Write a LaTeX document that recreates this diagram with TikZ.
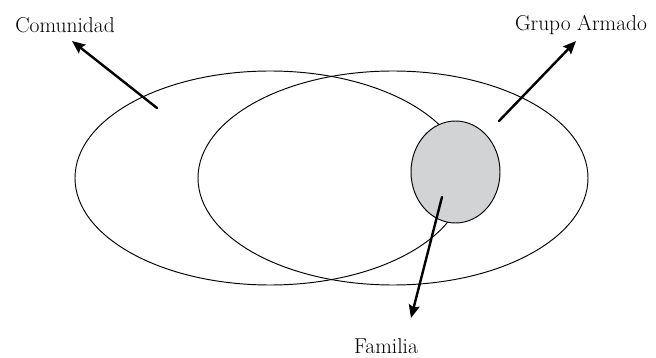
\documentclass[tikz,border=0pt]{standalone}
\usetikzlibrary{shapes.geometric,arrows.meta}
\definecolor{famgray}{RGB}{209,211,213}
\begin{document}
\begin{tikzpicture}[x=1pt,y=-1pt,>={Stealth[length=13pt,width=11pt,inset=2pt]},
  every node/.style={font=\fontsize{21.5}{25}\selectfont},
  set/.style={draw,ellipse,line width=0.95pt,minimum width=390pt,minimum height=214pt,inner sep=0pt},
  lbl/.style={anchor=base,inner sep=0pt},
  arr/.style={->,line width=2.4pt,line cap=round}]
\useasboundingbox (0,0) rectangle (656,358);
\node[set] (com) at (270,178){};\node[set] (grupo) at (393,178){};
\node[set,fill=famgray,minimum width=89pt,minimum height=102pt] (fam) at (455.5,172){};
\node[lbl] (tcom) at (65,33){Comunidad};\node[lbl] (tgrupo) at (581,31){Grupo Armado};\node[lbl] (tfam) at (386,353){Familia};
\coordinate (comtail) at (157,108);\coordinate (comtip) at (72,41);
\coordinate (grupotail) at (499,121);\coordinate (grupotip) at (576,41);
\coordinate (famtail) at (442,197);\coordinate (famtip) at (411,318);
\draw[arr] (comtail)--(comtip);\draw[arr] (grupotail)--(grupotip);\draw[arr] (famtail)--(famtip);
\end{tikzpicture}
\end{document}
